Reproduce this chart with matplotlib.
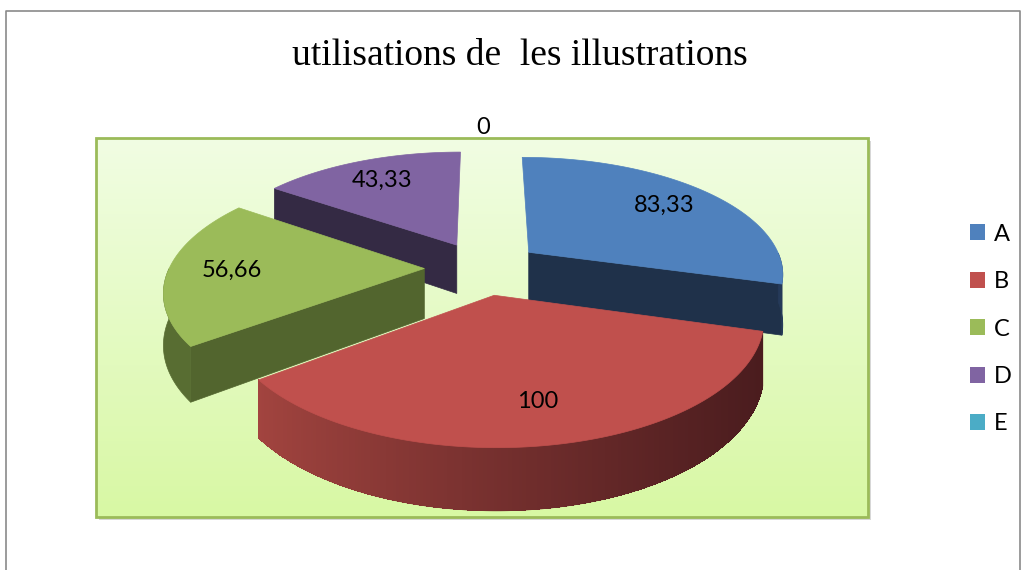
import numpy as np
import matplotlib
matplotlib.use("Agg")
import matplotlib.pyplot as plt
from matplotlib.patches import Polygon, Rectangle, Patch
from matplotlib.colors import to_rgb

# data
categories = ['A', 'B', 'C', 'D', 'E']
values = [83.33, 100, 56.66, 43.33, 0]
value_labels = ['83,33', '100', '56,66', '43,33', '0']
top_colors = ['#4F81BD', '#C0504D', '#9BBB59', '#8064A2', '#4BACC6']
side_colors = ['#1F314A', '#4A1C1E', '#52652E', '#342A44', '#215968']
wall_light = ['#2A4368', '#A2443F', '#5E7536', '#3E3252', '#2B7286']

title = 'utilisations de  les illustrations'

# 3d-ish projection settings (pixel space)
cx, cy = 483, 268
R0, r0 = 255, 116
P = 0.17       # perspective
D0 = 50        # thickness
explode = 0.23


def proj(u, w, z=0.0):
    s = 1.0 / (1.0 + P * w)
    return cx + R0 * u * s, cy - r0 * w * s + D0 * z * s


def lerp(c1, c2, t):
    a, b = np.array(to_rgb(c1)), np.array(to_rgb(c2))
    return tuple(a + (b - a) * t)


fig = plt.figure(figsize=(10.24, 5.70), dpi=100)
ax = fig.add_axes([0, 0, 1, 1])

# plot area with gradient fill
grad = np.linspace(0, 1, 200)[:, None, None]
top_c = np.array(to_rgb('#F1FDE3'))
bot_c = np.array(to_rgb('#D8F8A4'))
img = top_c + (bot_c - top_c) * grad
ax.add_patch(Rectangle((99, 141), 772, 379, facecolor='#bdbdbd', edgecolor='none', alpha=0.6, zorder=0))
ax.imshow(img, extent=(96, 868, 517, 138), aspect='auto', interpolation='bilinear', zorder=1)
ax.add_patch(Rectangle((96, 138), 772, 379, facecolor='none', edgecolor='#9BBB59', lw=2, zorder=2))

# outer chart border
ax.plot([6, 6, 1020, 1020], [572, 11, 11, 572], color='#8a8a8a', lw=1.2, zorder=2)

total = sum(values)
angles = []
start = 90.0
for v in values:
    sweep = 360.0 * v / total
    angles.append((start, start - sweep))   # clockwise
    start -= sweep

order = sorted(range(len(values)), key=lambda i: -np.sin(np.radians(sum(angles[i]) / 2)))

for i in order:
    if values[i] == 0:
        continue
    a1, a2 = angles[i]
    mid = np.radians((a1 + a2) / 2)
    ou, ow = explode * np.cos(mid), explode * np.sin(mid)
    th = np.radians(np.linspace(a1, a2, 200))
    z = 5 + order.index(i) * 3

    # cut faces
    for ang, vis in ((a1, np.cos(np.radians(a1)) < -1e-6), (a2, np.cos(np.radians(a2)) > 1e-6)):
        if not vis:
            continue
        eu, ew = ou + np.cos(np.radians(ang)), ow + np.sin(np.radians(ang))
        pts = [proj(ou, ow, 0), proj(eu, ew, 0), proj(eu, ew, 1), proj(ou, ow, 1)]
        ax.add_patch(Polygon(pts, closed=True, facecolor=side_colors[i],
                             edgecolor=side_colors[i], lw=0.5, zorder=z))

    # outer wall (front facing part)
    front = th[np.sin(th) < 0]
    if len(front) > 1:
        top_pts = [proj(ou + np.cos(t), ow + np.sin(t), 0) for t in front]
        bot_pts = [proj(ou + np.cos(t), ow + np.sin(t), 1) for t in front]
        base = lerp(wall_light[i], side_colors[i], 0.5)
        ax.add_patch(Polygon(top_pts + bot_pts[::-1], closed=True, facecolor=base,
                             edgecolor=base, lw=0.5, zorder=z + 1))
        if i == 1:
            xs = [p[0] for p in top_pts]
            xmin, xmax = min(xs), max(xs)
            for k in range(len(front) - 1):
                pts = [top_pts[k], top_pts[k + 1], bot_pts[k + 1], bot_pts[k]]
                xm = (pts[0][0] + pts[1][0]) / 2
                tt = (xm - xmin) / (xmax - xmin)
                col = lerp(wall_light[i], side_colors[i], tt ** 0.9)
                ax.add_patch(Polygon(pts, closed=True, facecolor=col, edgecolor='none',
                                     lw=0, antialiased=False, zorder=z + 1))

    # top face
    pts = [proj(ou, ow, 0)] + [proj(ou + np.cos(t), ow + np.sin(t), 0) for t in th]
    ax.add_patch(Polygon(pts, closed=True, facecolor=top_colors[i],
                         edgecolor=top_colors[i], lw=0.5, zorder=z + 2))

# value labels
for i, v in enumerate(values):
    a1, a2 = angles[i]
    mid = np.radians((a1 + a2) / 2)
    d = 0.75 if v > 0 else 1.3
    lu = explode * np.cos(mid) + d * np.cos(mid)
    lw_ = explode * np.sin(mid) + d * np.sin(mid)
    x, y = proj(lu, lw_, 0)
    ax.text(x, y, value_labels[i], ha='center', va='center', fontsize=17,
            family='Lato', color='black', zorder=30)

ax.text(520, 56, title, ha='center', va='center', fontsize=27,
        family='Liberation Serif', color='black')

ax.set_xlim(0, 1024)
ax.set_ylim(570, 0)
ax.axis('off')

handles = [Patch(facecolor=c, edgecolor='none') for c in top_colors]
fig.legend(handles, categories, loc='center left', bbox_to_anchor=(970 / 1024, 1 - 329 / 570),
           frameon=False, prop={'family': 'Lato', 'size': 17}, handlelength=0.65,
           handleheight=0.65, handletextpad=0.35, labelspacing=1.12, borderpad=0, borderaxespad=0)

fig.savefig('out.png', dpi=100)
